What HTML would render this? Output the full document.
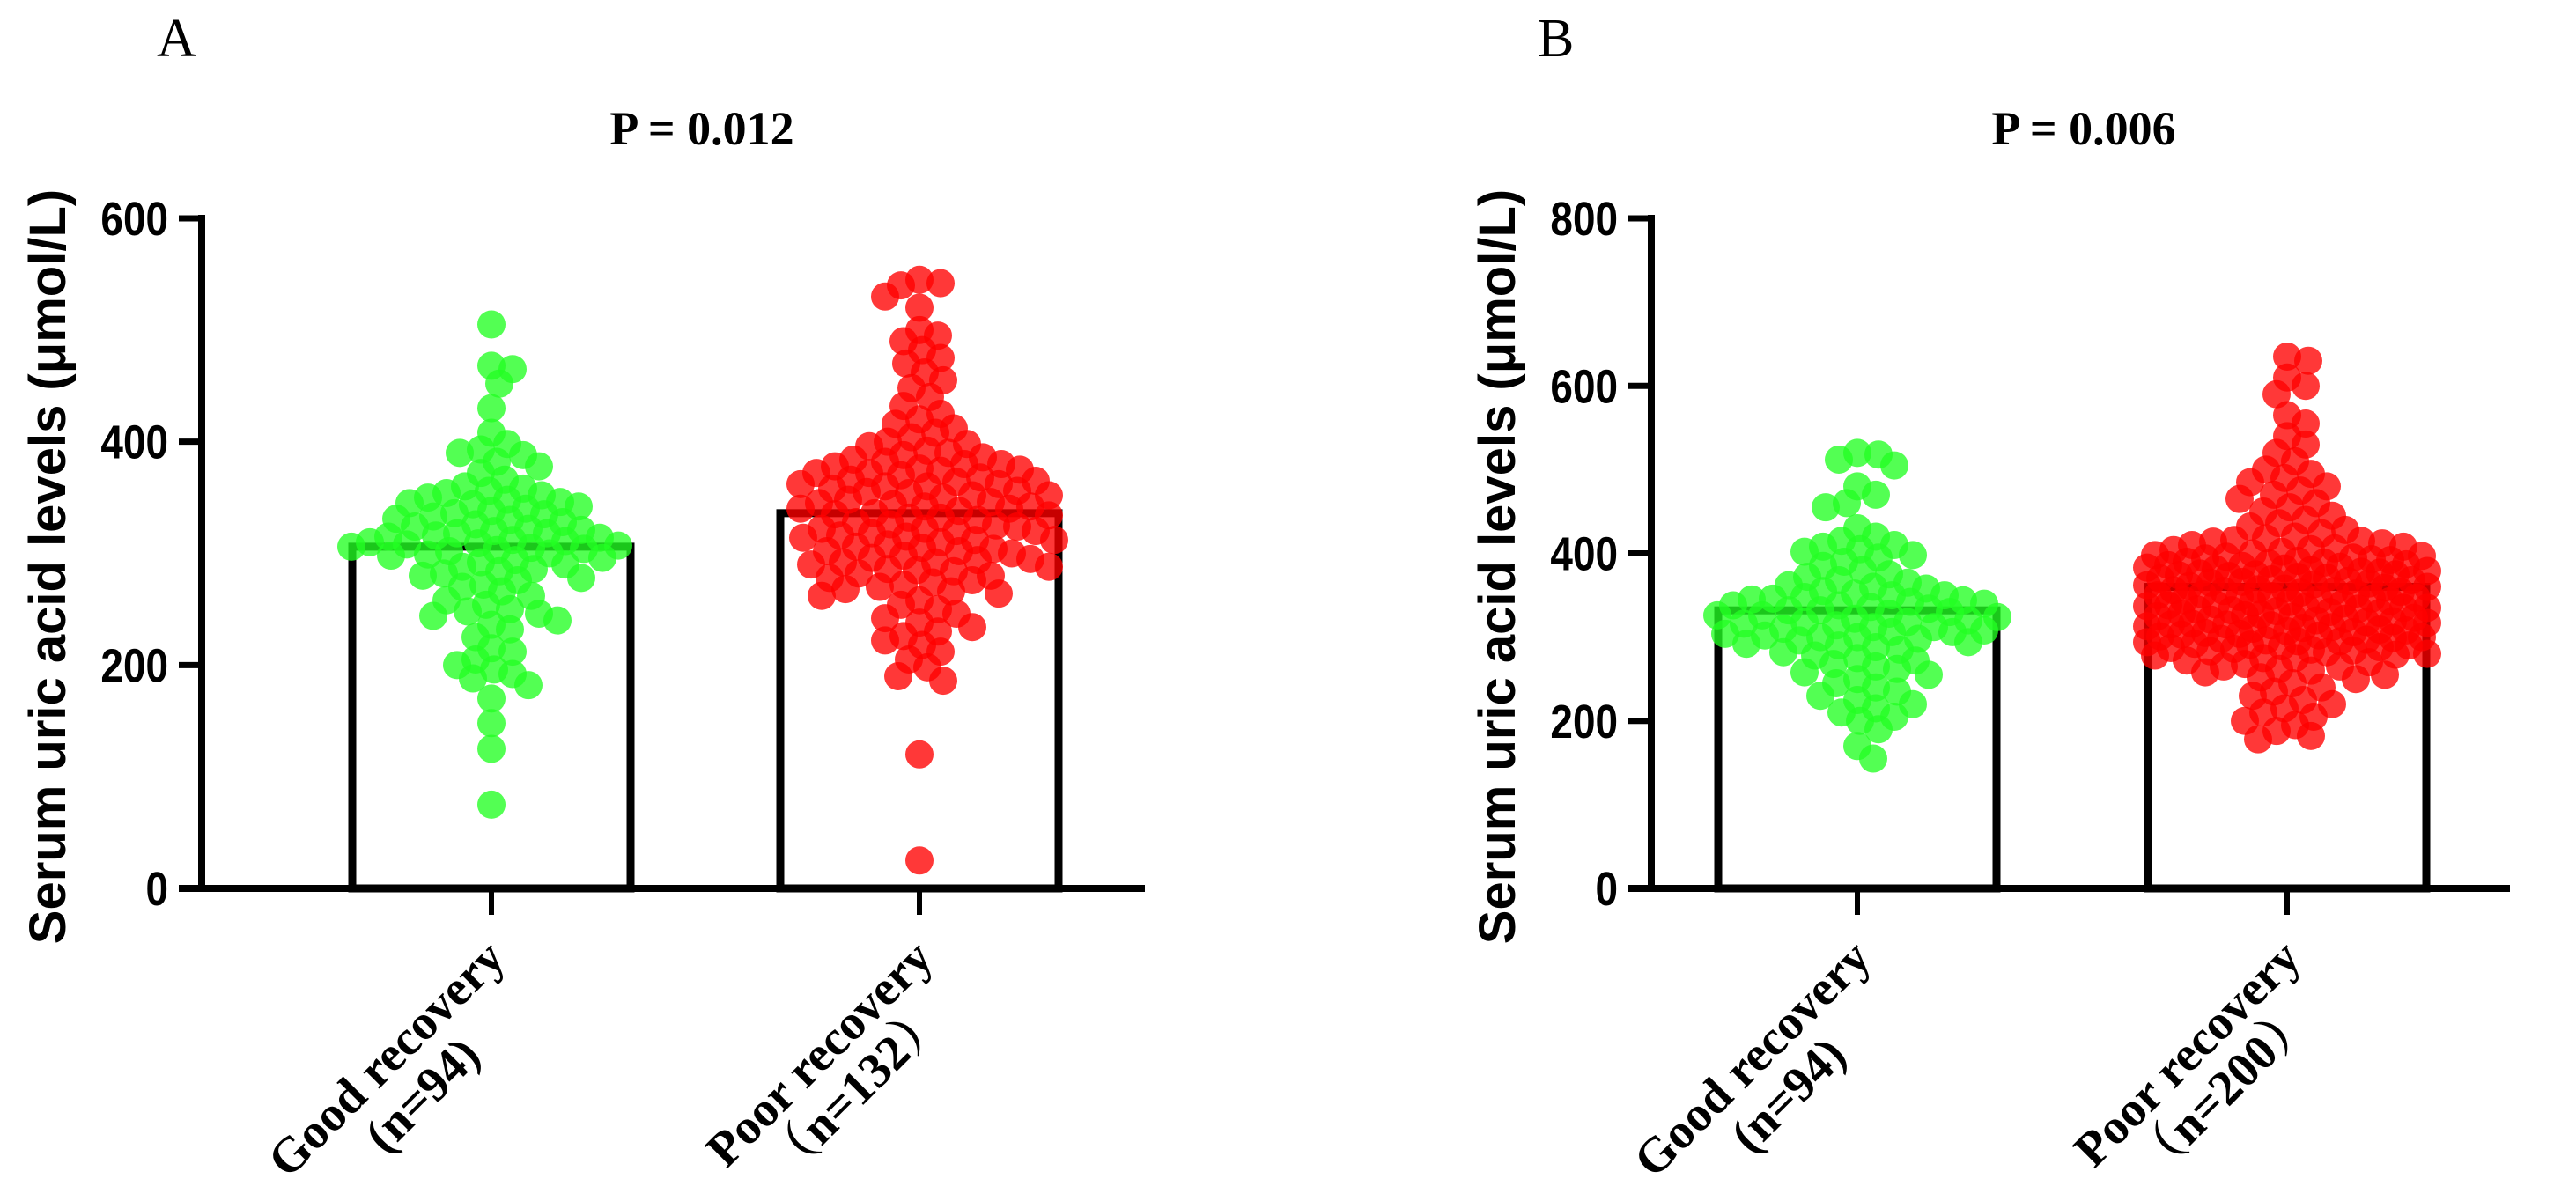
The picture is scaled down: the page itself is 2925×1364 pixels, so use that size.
<!DOCTYPE html>
<html><head><meta charset="utf-8"><style>
html,body{margin:0;padding:0;background:#fff;}
svg{display:block;}
</style></head><body>
<svg id="chart" width="2925" height="1364" viewBox="0 0 2925 1364" xmlns="http://www.w3.org/2000/svg">
<rect width="2925" height="1364" fill="#fff"/>
</svg>
<script>
// ---- data ----
const categories = ["Good recovery", "Poor recovery"];
const countLabelsA = ["(n=94)", "（n=132）"];
const countLabelsB = ["(n=94)", "（n=200）"];
const pValues = ["P = 0.012", "P = 0.006"];
const panelLetters = ["A", "B"];
const ticksA = [0, 200, 400, 600];
const ticksB = [0, 200, 400, 600, 800];
const meansA = [306, 336];
const meansB = [332, 360];
const goodA = [505,468,465,452,430,408,398,393,390,388,382,378,372,366,360,358,356,354,352,350,348,346,344,342,340,338,336,335,333,331,330,328,326,324,322,321,320,318,316,315,314,312,311,310,309,308,307,306,305,304,303,302,300,299,298,296,294,292,290,288,286,284,282,280,278,276,272,270,266,262,258,254,250,248,246,244,240,236,232,225,215,212,205,200,196,192,188,182,170,148,125,75,318,345];
const poorA = [545,542,540,530,520,500,495,490,482,475,470,462,455,448,440,432,425,420,416,412,408,404,400,398,396,392,390,388,386,384,382,380,378,376,374,372,370,368,366,364,362,360,358,356,354,352,350,348,346,344,342,340,338,336,334,332,330,328,326,324,322,320,318,316,314,312,310,308,306,304,302,300,298,296,294,292,290,288,286,284,282,280,278,276,274,272,270,268,266,264,262,258,254,250,246,242,238,234,230,226,222,218,212,205,198,190,186,120,25,375,365,355,345,335,325,315,305,295,285,372,362,352,342,332,322,312,302,292,380,360,340,320];
const goodB = [520,518,512,505,480,470,460,455,430,420,415,410,408,405,402,398,395,390,385,380,375,372,368,365,362,360,358,355,352,350,348,346,344,342,340,338,336,334,332,330,328,326,324,322,320,318,316,314,312,310,308,306,304,302,300,298,296,294,292,290,288,285,282,278,275,272,268,265,262,258,255,250,245,240,235,230,225,220,215,210,205,200,190,170,155,338,332,326,318,312,306,300,345,350];
const poorB = [635,630,610,600,590,565,555,540,530,520,510,500,495,490,485,480,475,470,465,460,455,450,445,440,436,432,428,424,420,418,416,414,412,410,408,406,404,402,400,398,396,394,392,390,388,386,384,382,380,378,376,374,372,370,368,366,364,362,360,358,356,354,352,350,348,346,344,342,340,338,336,334,332,330,328,326,324,322,320,318,316,314,312,310,308,306,304,302,300,298,296,294,292,290,288,286,284,282,280,278,275,272,270,268,265,262,260,258,255,252,250,245,240,235,230,225,220,215,210,205,200,195,188,182,178,395,391,387,383,379,375,371,367,363,359,355,351,347,343,339,335,331,327,323,319,315,311,307,303,299,295,291,287,283,279,405,385,365,345,325,305,285,265,415,375,355,335,315,295,275,393,373,353,333,313,397,377,357,337,317,297,389,369,349,329,309,289,381,361,341,321,301];

const NS = "http://www.w3.org/2000/svg";
const svg = document.getElementById("chart");
function mk(tag, attrs, parent) {
  const e = document.createElementNS(NS, tag);
  for (const k in attrs) e.setAttribute(k, attrs[k]);
  (parent || svg).appendChild(e);
  return e;
}

const panels = [
  {axisX: 229, x1: 1300, y0: 1009, yTop: 248, max: 600, ticks: ticksA, means: meansA, groups: [goodA, poorA], centers: [558, 1044], counts: countLabelsA, p: pValues[0], pX: 797, letter: panelLetters[0], letterX: 178, titleX: 52},
  {axisX: 1875, x1: 2850, y0: 1009, yTop: 248, max: 800, ticks: ticksB, means: meansB, groups: [goodB, poorB], centers: [2109, 2597], counts: countLabelsB, p: pValues[1], pX: 2366, letter: panelLetters[1], letterX: 1746, titleX: 1698}
];
const colors = ["#22ff22", "#ff0000"];
const barHalf = 158, R = 16;

panels.forEach((P, pi) => {
  const g = mk("g", {});
  
  
  const yScale = v => P.y0 - (v / P.max) * (P.y0 - P.yTop);

  const L = mk("text", {x: P.letterX, y: 64, "font-family": "Liberation Serif, serif", "font-size": 62, fill: "#000"}, g);
  L.textContent = P.letter;
  
  
  const pt = mk("text", {x: P.pX, y: 164, "text-anchor": "middle", "font-family": "Liberation Serif, serif", "font-weight": "bold", "font-size": 54, fill: "#000"}, g);
  pt.textContent = P.p;
  
  

  const yt = mk("text", {x: 0, y: 0, transform: `translate(${P.titleX + 22},${(P.y0 + P.yTop) / 2 + 15}) rotate(-90)`, "text-anchor": "middle", "font-family": "Liberation Sans, sans-serif", "font-weight": "bold", "font-size": 58, fill: "#000"}, g);
  yt.textContent = "Serum uric acid levels (μmol/L)";
  
  

  P.means.forEach((m, i) => {
    const b = mk("rect", {x: P.centers[i] - barHalf, y: yScale(m), width: barHalf * 2, height: P.y0 - yScale(m), fill: "#fff", stroke: "#000", "stroke-width": 9}, g);
    
    
  });

  P.groups.forEach((vals, gi) => {
    const sorted = vals.slice().sort((a, b) => b - a);
    const placed = [];
    const minD = R * 1.35;
    const cap = 160;
    sorted.forEach(v => {
      const y = yScale(v);
      let best = null, bestScore = -1;
      for (let s = 0; s <= cap; s += 3) {
        for (const off of (s === 0 ? [0] : [s, -s])) {
          let md = 1e9;
          for (const q of placed) {
            const d = Math.hypot(q.x - off, q.y - y);
            if (d < md) md = d;
          }
          if (md >= minD) { best = off; bestScore = 1e9; break; }
          if (md > bestScore) { bestScore = md; best = off; }
        }
        if (bestScore === 1e9) break;
      }
      placed.push({x: best, y: y});
      const c = mk("circle", {cx: P.centers[gi] + best, cy: y, r: R, fill: colors[gi], "fill-opacity": 0.78}, g);
      
      
    });
  });

  const ya = mk("line", {x1: P.axisX, y1: P.yTop - 4, x2: P.axisX, y2: P.y0 + 4, stroke: "#000", "stroke-width": 8}, g);
  
  
  const xa = mk("line", {x1: P.axisX - 26, y1: P.y0, x2: P.x1, y2: P.y0, stroke: "#000", "stroke-width": 8}, g);
  
  
  P.ticks.forEach(t => {
    const y = yScale(t);
    const tk = mk("line", {x1: P.axisX - 26, y1: y, x2: P.axisX, y2: y, stroke: "#000", "stroke-width": 7}, g);
    
    
    const tl = mk("text", {x: 0, y: 0, transform: `translate(${P.axisX - 38},${y + 19}) scale(0.85,1)`, "text-anchor": "end", "font-family": "Liberation Sans, sans-serif", "font-weight": "bold", "font-size": 54, fill: "#000"}, g);
    tl.textContent = t;
    
    
  });

  categories.forEach((cat, i) => {
    const cx = P.centers[i];
    const tk = mk("line", {x1: cx, y1: P.y0, x2: cx, y2: P.y0 + 30, stroke: "#000", "stroke-width": 6}, g);
    
    
    const lg = mk("g", {transform: `translate(${cx + 18},${P.y0 + 82}) rotate(-45)`}, g);
    
    
    const t1 = mk("text", {x: 0, y: 0, "text-anchor": "end", "font-family": "Liberation Serif, 'Noto Serif CJK SC', serif", "font-weight": "bold", "font-size": 56, fill: "#000"}, lg);
    t1.textContent = cat;
    const w = t1.getComputedTextLength();
    const t2 = mk("text", {x: -w / 2, y: 58, "text-anchor": "middle", "font-family": "Liberation Serif, 'Noto Serif CJK SC', serif", "font-weight": "bold", "font-size": 56, fill: "#000"}, lg);
    t2.textContent = P.counts[i];
  });
});
</script>
</body></html>
